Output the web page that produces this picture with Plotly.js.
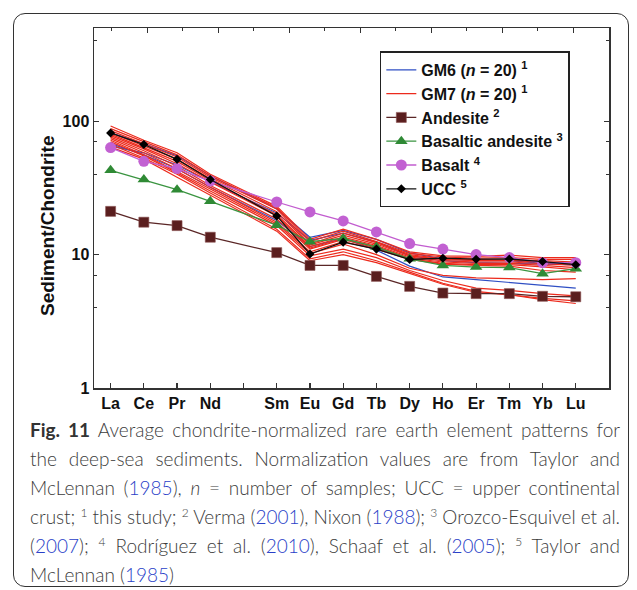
<!DOCTYPE html>
<html>
<head>
<meta charset="utf-8">
<script src="https://cdn.plot.ly/plotly-3.0.1.min.js"></script>
<style>
  html, body { margin:0; padding:0; background:#fff; }
  #wrap { position:relative; width:637px; height:590px; overflow:hidden; }
  #frame { position:absolute; left:13px; top:13px; width:616px; height:574px;
           border:1.5px solid #333; border-radius:12px; box-sizing:border-box; }
  #chart { position:absolute; left:0; top:0; width:637px; height:590px; }
  #caption { position:absolute; left:30px; top:415px; width:590px;
             font-family: Lato, "Open Sans", sans-serif; font-weight:300; font-size:19px;
             color:#3c3c3c; line-height:29px; }
  #caption .ln { white-space:nowrap; text-align:justify; text-align-last:justify; }
  #caption .ln.last { text-align-last:left; }
  #caption a { color:#2a3fc8; text-decoration:none; }
  #caption b { font-weight:700; color:#333; }
  #caption sup { font-size:12px; line-height:0; vertical-align:7px; }
</style>
</head>
<body>
<div id="wrap">
  <div id="frame"></div>
  <div id="chart"></div>
  <div id="caption">
    <div class="ln"><b>Fig. 11</b> Average chondrite-normalized rare earth element patterns for</div>
    <div class="ln">the deep-sea sediments. Normalization values are from Taylor and</div>
    <div class="ln">McLennan (<a>1985</a>), <i>n</i> = number of samples; UCC = upper continental</div>
    <div class="ln">crust; <sup>1</sup> this study; <sup>2</sup> Verma (<a>2001</a>), Nixon (<a>1988</a>); <sup>3</sup> Orozco-Esquivel et al.</div>
    <div class="ln">(<a>2007</a>); <sup>4</sup> Rodríguez et al. (<a>2010</a>), Schaaf et al. (<a>2005</a>); <sup>5</sup> Taylor and</div>
    <div class="ln last">McLennan (<a>1985</a>)</div>
  </div>
</div>
<script>
// ---- data ----
const elements = ["La","Ce","Pr","Nd","Pm","Sm","Eu","Gd","Tb","Dy","Ho","Er","Tm","Yb","Lu"];
const elementIdx = [0,1,2,3,5,6,7,8,9,10,11,12,13,14]; // Pm (4) has no data
const tickLabels = ["La","Ce","Pr","Nd","","Sm","Eu","Gd","Tb","Dy","Ho","Er","Tm","Yb","Lu"];

// GM6 samples (blue)
const gm6_a = [82, 68, 55, 39, 22, 13.5, 15.2, 13, 10.3, 9.3, 9.0, 9.0, 8.6, 8.4];
const gm6_b = [65, 58, 47, 35, 20.5, 12.8, 14.5, 12.4, 9.8, 9.0, 8.7, 8.6, 8.5, 8.4];
const gm6_c = [68, 56, 44, 32, 18, 11.5, 13.2, 10.8, 8.2, 6.8, 6.5, 6.2, 5.9, 5.6];

// GM7 samples (red)
const gm7_a = [92, 72, 58, 40, 23, 13, 15.5, 13, 10.5, 9.8, 9.7, 9.9, 9.5, 9.5];
const gm7_b = [88, 70, 56, 39, 22.5, 12.5, 15, 12.5, 10.2, 9.6, 9.4, 9.5, 9.2, 9.2];
const gm7_c = [85, 68, 54, 38, 22, 12, 14.5, 12.3, 10, 9.3, 9.2, 9.2, 9.0, 8.8];
const gm7_d = [82, 65, 52, 37, 21, 11.8, 14, 12, 9.8, 9.2, 9.0, 9.0, 8.8, 8.6];
const gm7_e = [80, 63, 50, 36, 20, 11.5, 13.5, 11.7, 9.6, 9.0, 8.8, 8.8, 8.6, 8.3];
const gm7_f = [78, 62, 48, 35, 19.5, 11.2, 13.2, 11.5, 9.4, 8.8, 8.6, 8.6, 8.3, 8.0];
const gm7_g = [76, 60, 46, 33, 18.5, 11, 13, 11.2, 9.3, 8.6, 8.4, 8.4, 8.1, 7.7];
const gm7_h = [74, 58, 44, 32, 17.5, 10.5, 12.5, 11, 9.2, 8.5, 8.3, 8.2, 7.6, 7.4];
const gm7_i = [72, 56, 42, 31, 17, 10.2, 12, 10, 7.9, 7.0, 6.7, 6.6, 6.5, 6.6];
const gm7_j = [70, 55, 41, 30, 16.5, 9.8, 11, 9.5, 7.6, 6.4, 5.6, 5.4, 5.1, 4.9];
const gm7_k = [67, 53, 40, 29, 15.5, 9.3, 10.5, 9.0, 7.4, 6.1, 5.3, 5.0, 4.6, 4.3];
const gm7_l = [64, 52, 38, 28, 15, 9.0, 10, 8.7, 7.2, 6.0, 5.2, 5.0, 4.7, 4.5];

// reference compositions
const andesite = [21.1, 17.5, 16.5, 13.5, 10.35, 8.3, 8.3, 6.87, 5.78, 5.15, 5.1, 5.1, 4.87, 4.83];
const basalticAndesite = [42.9, 36.5, 30.7, 25.1, 16.6, 12.5, 13.2, 11.4, 9.3, 8.3, 8.07, 8.0, 7.2, 7.85];
const basalt = [63.5, 50.1, 44.2, 35.6, 24.8, 20.9, 17.9, 14.8, 12.1, 11.0, 10.0, 9.5, 8.7, 8.7];
const ucc = [81.7, 66.9, 51.8, 36.6, 19.5, 10.1, 12.4, 11.0, 9.19, 9.4, 9.24, 9.27, 8.87, 8.4];

const gm6 = [gm6_a, gm6_b, gm6_c];
const gm7 = [gm7_a, gm7_b, gm7_c, gm7_d, gm7_e, gm7_f, gm7_g, gm7_h, gm7_i, gm7_j, gm7_k, gm7_l];

// ---- traces ----
const traces = [];
gm6.forEach((s, i) => traces.push({
  x: elementIdx, y: s, type: 'scatter', mode: 'lines',
  line: {color: '#2f4fc4', width: 1.2},
  name: 'GM6 (<i>n</i> = 20) <sup>1</sup>', legendgroup: 'gm6', showlegend: i === 0, legendrank: 1,
  hoverinfo: 'skip'
}));
gm7.forEach((s, i) => traces.push({
  x: elementIdx, y: s, type: 'scatter', mode: 'lines',
  line: {color: '#ec2a1c', width: 1.2},
  name: 'GM7 (<i>n</i> = 20) <sup>1</sup>', legendgroup: 'gm7', showlegend: i === 0, legendrank: 2,
  hoverinfo: 'skip'
}));
traces.push({
  x: elementIdx, y: andesite, type: 'scatter', mode: 'lines+markers',
  line: {color: '#5a2626', width: 1.3},
  marker: {symbol: 'square', size: 10, color: '#5a1e1e', line: {color: '#8a5050', width: 0.6}},
  name: 'Andesite <sup>2</sup>', legendrank: 3
});
traces.push({
  x: elementIdx, y: basalticAndesite, type: 'scatter', mode: 'lines+markers',
  line: {color: '#3a9440', width: 1.3},
  marker: {symbol: 'triangle-up', size: 11, color: '#2f8a35'},
  name: 'Basaltic andesite <sup>3</sup>', legendrank: 4
});
traces.push({
  x: elementIdx, y: basalt, type: 'scatter', mode: 'lines+markers',
  line: {color: '#c25ccf', width: 1.3},
  marker: {symbol: 'circle', size: 11, color: '#c261d2'},
  name: 'Basalt <sup>4</sup>', legendrank: 5
});
traces.push({
  x: elementIdx, y: ucc, type: 'scatter', mode: 'lines+markers',
  line: {color: '#111', width: 1.3},
  marker: {symbol: 'diamond', size: 7, color: '#000'},
  name: 'UCC <sup>5</sup>', legendrank: 6
});
// empty trace to bind the top (mirror) axis
traces.push({x: [], y: [], xaxis: 'x2', type: 'scatter', mode: 'lines', showlegend: false, hoverinfo: 'skip'});

const boldArial = (size) => ({family: 'Arial, "Liberation Sans", sans-serif', size: size, color: '#111', weight: 700});

const layout = {
  width: 637, height: 590,
  margin: {l: 94, r: 28, t: 28, b: 202},
  paper_bgcolor: 'rgba(0,0,0,0)', plot_bgcolor: '#fff',
  showlegend: true,
  xaxis: {
    range: [-0.5, 15], tickmode: 'array',
    tickvals: elements.map((_, i) => i), ticktext: tickLabels,
    ticks: 'inside', ticklen: 5, tickwidth: 1.2, tickcolor: '#333',
    showline: true, linecolor: '#333', linewidth: 1.5,
    showgrid: false, zeroline: false, tickfont: boldArial(16)
  },
  xaxis2: {
    overlaying: 'x', side: 'top', anchor: 'y',
    range: [-1.5, 13], tick0: 0, dtick: 2,
    ticks: 'inside', ticklen: 5, tickwidth: 1.2, tickcolor: '#333',
    minor: {dtick: 1, ticks: 'inside', ticklen: 3, tickcolor: '#333', tickwidth: 1},
    showticklabels: false, showline: true, linecolor: '#333', linewidth: 1.5,
    showgrid: false, zeroline: false
  },
  yaxis: {
    type: 'log', range: [0, Math.log10(500)],
    tickmode: 'array', tickvals: [1, 10, 100], ticktext: ['1', '10', '100'],
    ticks: 'inside', ticklen: 5, tickwidth: 1.2, tickcolor: '#333',
    minor: {tickmode: 'array', tickvals: [4, 7, 40, 70, 400], ticks: 'inside', ticklen: 3, tickcolor: '#333', tickwidth: 1},
    showline: true, linecolor: '#333', linewidth: 1.5, mirror: 'ticks',
    showgrid: false, zeroline: false, tickfont: boldArial(16)
  },
  annotations: [{
    text: 'Sediment/Chondrite', textangle: -90, showarrow: false,
    xref: 'paper', yref: 'paper', x: (47 - 94) / 515, y: 1 - (226 - 28) / 360,
    xanchor: 'center', yanchor: 'middle', font: boldArial(19)
  }],
  legend: {
    x: 0.555, y: 0.935, xanchor: 'left', yanchor: 'top',
    bgcolor: '#fff', bordercolor: '#222', borderwidth: 1.5,
    font: boldArial(16),
    tracegroupgap: 0, itemwidth: 30
  }
};

Plotly.newPlot('chart', traces, layout, {displayModeBar: false, staticPlot: true});

// keep each justified caption line within its width
document.querySelectorAll('#caption .ln').forEach(el => {
  const range = document.createRange();
  range.selectNodeContents(el);
  const w = range.getBoundingClientRect().width;
  if (w > 590) el.style.letterSpacing = ((590 - w) / el.textContent.length).toFixed(3) + 'px';
});
</script>
</body>
</html>
